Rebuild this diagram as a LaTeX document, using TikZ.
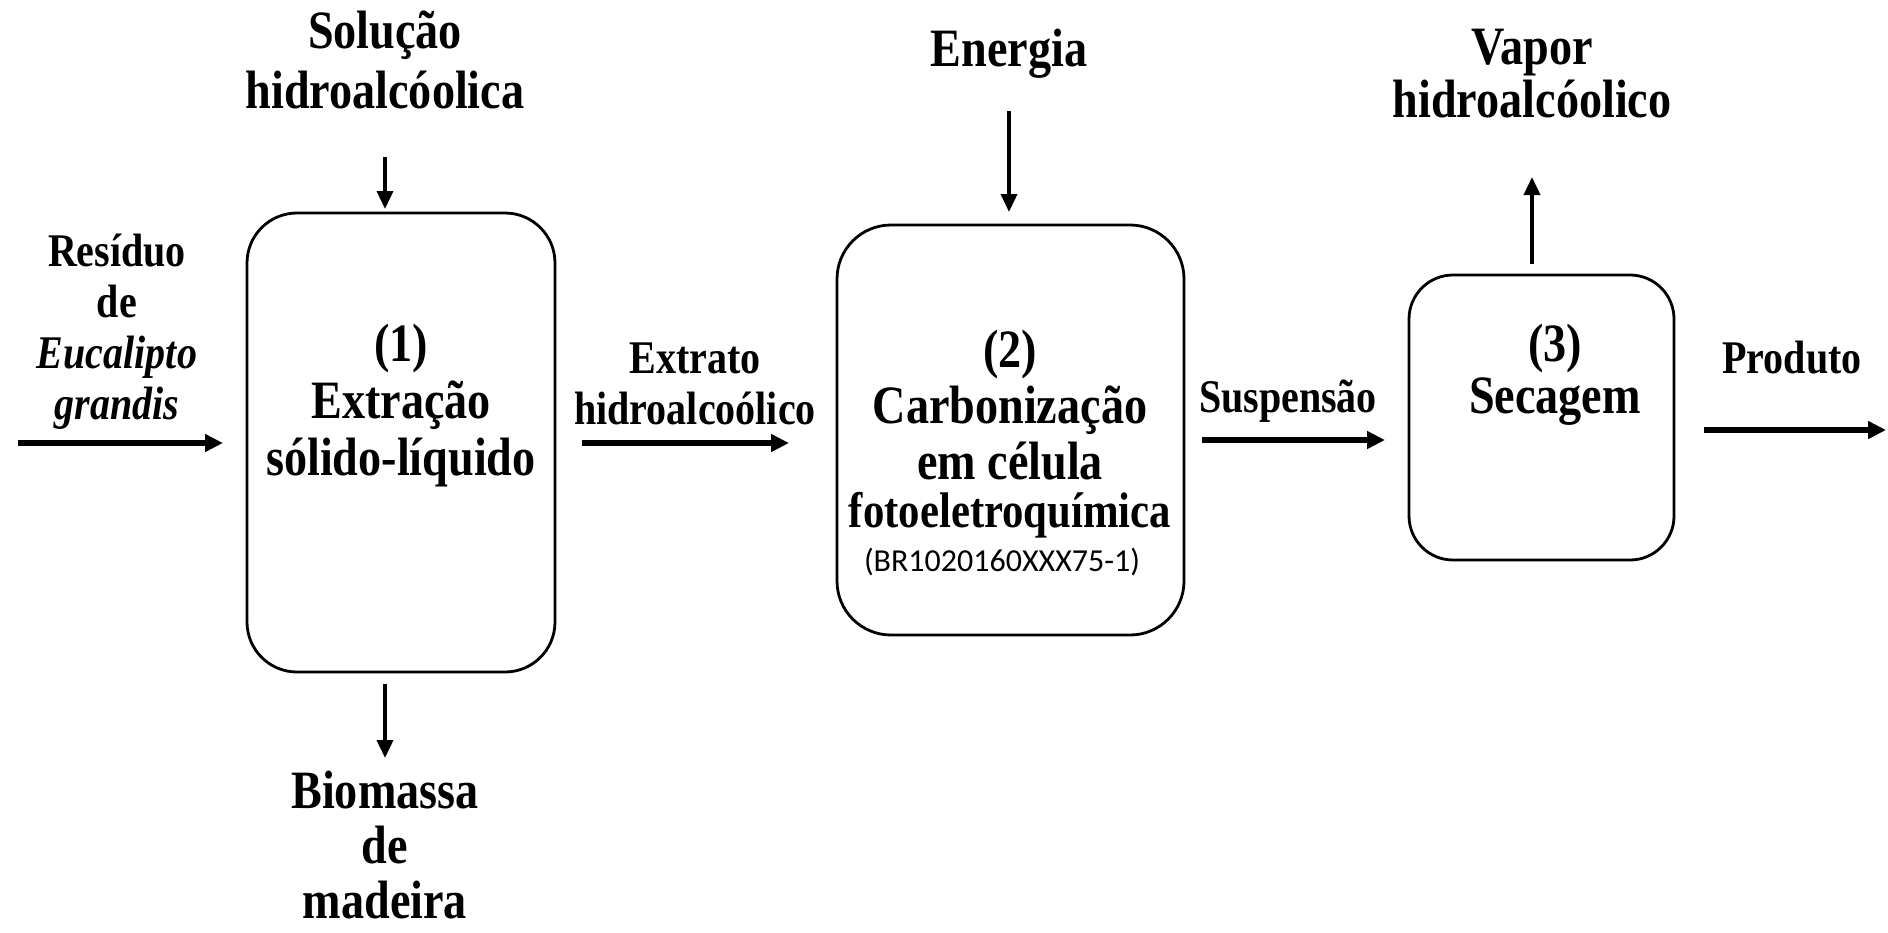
\documentclass[tikz,border=0pt]{standalone}
\usepackage{fontspec}
\setmainfont{Liberation Serif}[FakeStretch=0.855]
\newfontfamily\patentfont{Carlito}
\usetikzlibrary{arrows.meta}
\begin{document}
\begin{tikzpicture}[x=0.5pt,y=-0.5pt,
  proc/.style={draw, line width=1.4pt, inner sep=0pt},
  biglbl/.style={font=\bfseries\fontsize{27}{28.5}\selectfont, align=center, inner sep=0pt},
  smalllbl/.style={font=\bfseries\fontsize{23.4}{25.5}\selectfont, align=center, inner sep=0pt},
  harrow/.style={line width=2.6pt, -{Triangle[length=9pt,width=8.5pt]}},
  varrow/.style={line width=1.8pt, -{Triangle[length=9pt,width=8pt]}}
]
\useasboundingbox (0,0) rectangle (1888,932);
\fill[white] (0,0) rectangle (1888,932);

% process boxes
\node[proc, rounded corners=25pt, minimum width=154pt, minimum height=229.5pt] (box1) at (401,442.5) {};
\node[proc, rounded corners=27pt, minimum width=173.5pt, minimum height=205pt] (box2) at (1010.5,430) {};
\node[proc, rounded corners=22pt, minimum width=132.5pt, minimum height=142.5pt] (box3) at (1541.5,417.5) {};

% box texts
\node[biglbl] (t1) at (401,406) {(1)\\Extração\\sólido-líquido};
\node[biglbl, font=\bfseries\fontsize{27}{28}\selectfont] (t2) at (1010,405) {(2)\\Carbonização\\em célula};
\node[biglbl, font=\bfseries\fontsize{25}{26}\selectfont] (t2f) at (1010,515) {fotoeletroquímica};
\node[inner sep=0pt, font=\patentfont\fontsize{16}{19}\selectfont] (t2p) at (1002,562) {(BR1020160XXX75-1)};
\node[biglbl, font=\bfseries\fontsize{27}{26}\selectfont] (t3) at (1555,375) {(3)\\Secagem};

% outer labels
\node[biglbl, font=\bfseries\fontsize{27}{30}\selectfont] (sol) at (385,60) {Solução\\hidroalcóolica};
\node[biglbl] (ene) at (1009,54) {Energia};
\node[biglbl, font=\bfseries\fontsize{27}{26.5}\selectfont] (vap) at (1532,73.5) {Vapor\\hidroalcóolico};
\node[biglbl, font=\bfseries\fontsize{27}{27.5}\selectfont] (bio) at (385,845) {Biomassa\\de\\madeira};
\node[smalllbl] (res) at (117,332) {Resíduo\\de\\\textit{Eucalipto}\\\textit{grandis}};
\node[smalllbl] (ext) at (695,383.5) {Extrato\\hidroalcoólico};
\node[smalllbl] (sus) at (1288,401) {Suspensão};
\node[smalllbl] (pro) at (1792,358) {Produto};

% arrow end points
\coordinate (a1s) at (18,443);   \coordinate (a1e) at (223,443);
\coordinate (a2s) at (582,443);  \coordinate (a2e) at (789,443);
\coordinate (a3s) at (1202,440); \coordinate (a3e) at (1385,440);
\coordinate (a4s) at (1704,430); \coordinate (a4e) at (1886,430);
\coordinate (v1s) at (385,157);  \coordinate (v1e) at (385,209);
\coordinate (v2s) at (385,684);  \coordinate (v2e) at (385,758);
\coordinate (v3s) at (1009,111); \coordinate (v3e) at (1009,212);
\coordinate (v4s) at (1532,264); \coordinate (v4e) at (1532,177);

\draw[harrow] (a1s) -- (a1e);
\draw[harrow] (a2s) -- (a2e);
\draw[harrow] (a3s) -- (a3e);
\draw[harrow] (a4s) -- (a4e);
\draw[varrow] (v1s) -- (v1e);
\draw[varrow] (v2s) -- (v2e);
\draw[varrow] (v3s) -- (v3e);
\draw[varrow] (v4s) -- (v4e);
\end{tikzpicture}
\end{document}
